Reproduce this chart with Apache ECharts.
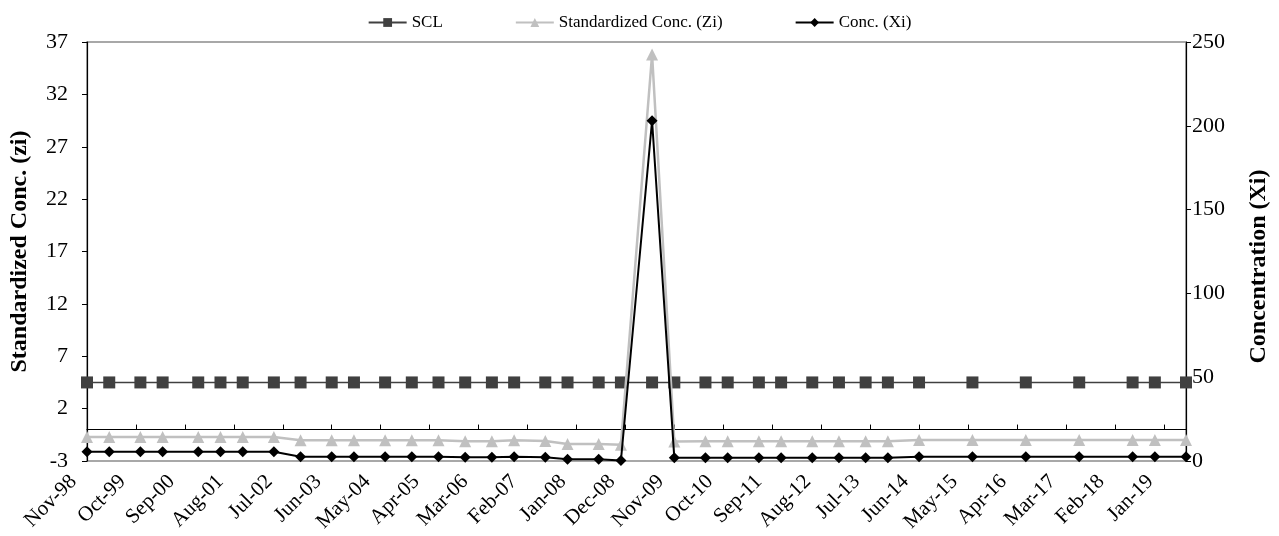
<!DOCTYPE html>
<html>
<head>
<meta charset="utf-8">
<script src="https://cdn.jsdelivr.net/npm/echarts@6/dist/echarts.min.js"></script>
<style>
html,body{margin:0;padding:0;background:#fff;}
#chart{width:1279px;height:536px;}
</style>
</head>
<body>
<div id="chart"></div>
<script>
// ---- data ----
const sampleDates = ['1998-11','1999-04','1999-11','2000-04','2000-12','2001-05','2001-10','2002-05','2002-11','2003-06',
  '2003-11','2004-06','2004-12','2005-06','2005-12','2006-06','2006-11','2007-06','2007-11','2008-06',
  '2008-11','2009-06','2009-11','2010-06','2010-11','2011-06','2011-11','2012-06','2012-12','2013-06',
  '2013-11','2014-06','2015-06','2016-06','2017-06','2018-06','2018-11','2019-06'];
const sclValues = [4.5,4.5,4.5,4.5,4.5,4.5,4.5,4.5,4.5,4.5,
  4.5,4.5,4.5,4.5,4.5,4.5,4.5,4.5,4.5,4.5,
  4.5,4.5,4.5,4.5,4.5,4.5,4.5,4.5,4.5,4.5,
  4.5,4.5,4.5,4.5,4.5,4.5,4.5,4.5];
const ziValues = [-0.70,-0.70,-0.70,-0.70,-0.70,-0.70,-0.70,-0.70,-1.03,-1.03,
  -1.03,-1.03,-1.03,-1.03,-1.12,-1.12,-1.03,-1.10,-1.37,-1.37,
  -1.45,35.8,-1.15,-1.12,-1.12,-1.12,-1.12,-1.12,-1.12,-1.12,
  -1.12,-1.0,-1.0,-1.0,-1.0,-1.0,-1.0,-1.0];
const xiValues = [5.5,5.5,5.5,5.5,5.5,5.5,5.5,5.5,2.5,2.5,
  2.5,2.5,2.5,2.5,2.2,2.2,2.5,2.2,1.0,1.0,
  0.3,203,1.9,1.9,1.9,1.9,1.9,1.9,1.9,1.9,
  1.9,2.5,2.5,2.5,2.5,2.5,2.5,2.5];
const xTickLabels = ['Nov-98','Oct-99','Sep-00','Aug-01','Jul-02','Jun-03','May-04','Apr-05','Mar-06','Feb-07','Jan-08','Dec-08',
  'Nov-09','Oct-10','Sep-11','Aug-12','Jul-13','Jun-14','May-15','Apr-16','Mar-17','Feb-18','Jan-19'];
const leftTicks = [-3,2,7,12,17,22,27,32,37];
const rightTicks = [0,50,100,150,200,250];
const seriesNames = ['SCL','Standardized Conc. (Zi)','Conc. (Xi)'];

// ---- helpers: month index from Nov-98 ----
const MON = ['Jan','Feb','Mar','Apr','May','Jun','Jul','Aug','Sep','Oct','Nov','Dec'];
const BASE = 1998*12 + 10;
function idxFromDate(s){ const p = s.split('-'); return (+p[0])*12 + (+p[1]-1) - BASE; }
function idxFromLabel(s){ const p = s.split('-'); return (2000 + (+p[1]) - (+p[1] > 50 ? 100 : 0))*12 + MON.indexOf(p[0]) - BASE; }
function labelFromIdx(m){ const t = BASE + m; const y = Math.floor(t/12); return MON[t%12] + '-' + String(y%100).padStart(2,'0'); }

const xIdx = sampleDates.map(idxFromDate);
const xMax = xIdx[xIdx.length-1];
const xTickIdx = xTickLabels.map(idxFromLabel);
const pair = (vals) => vals.map((v,i)=>[xIdx[i], v]);

const FONT = 'Liberation Serif';
const chart = echarts.init(document.getElementById('chart'));
chart.setOption({
  animation:false,
  backgroundColor:'#fff',
  textStyle:{fontFamily:FONT},
  legend:{
    top:9, left:'center', itemGap:72, itemWidth:38, itemHeight:11,
    textStyle:{fontFamily:FONT, fontSize:17, color:'#000'},
    data:seriesNames
  },
  grid:{left:86, right:91, top:42, bottom:75, show:true, borderColor:'#8c8c8c', borderWidth:1.5, containLabel:false},
  xAxis:[
    {type:'value', position:'bottom', min:0, max:xMax,
     axisLine:{show:false, onZero:false}, axisTick:{show:false}, splitLine:{show:false},
     axisLabel:{customValues:xTickIdx, rotate:45, margin:4, padding:[0,19,15,0], fontFamily:FONT, fontSize:21, color:'#000',
       formatter:(v)=>labelFromIdx(v)}},
    {type:'value', position:'top', min:0, max:xMax,
     axisLine:{show:true, onZero:true, onZeroAxisIndex:0, lineStyle:{color:'#000', width:1.2}},
     axisTick:{show:true, customValues:xTickIdx, length:5, lineStyle:{color:'#000'}},
     axisLabel:{show:false}, splitLine:{show:false}}
  ],
  yAxis:[
    {type:'value', position:'left', min:leftTicks[0], max:leftTicks[leftTicks.length-1],
     name:'Standardized Conc. (zi)', nameLocation:'middle', nameRotate:90, nameGap:55,
     nameTextStyle:{fontFamily:FONT, fontWeight:'bold', fontSize:24, color:'#000'},
     axisLine:{show:true, onZero:false, lineStyle:{color:'#000', width:1.2}},
     axisTick:{show:true, customValues:leftTicks, length:5, lineStyle:{color:'#000'}},
     axisLabel:{customValues:leftTicks, margin:19, fontFamily:FONT, fontSize:22, color:'#000'},
     splitLine:{show:false}},
    {type:'value', position:'right', min:rightTicks[0], max:rightTicks[rightTicks.length-1], interval:50,
     name:'Concentration (Xi)', nameLocation:'middle', nameRotate:90, nameGap:61,
     nameTextStyle:{fontFamily:FONT, fontWeight:'bold', fontSize:24, color:'#000', padding:[0,30,0,0]},
     axisLine:{show:true, onZero:false, lineStyle:{color:'#000', width:1.2}},
     axisTick:{show:true, length:5, lineStyle:{color:'#000'}},
     axisLabel:{margin:6, fontFamily:FONT, fontSize:22, color:'#000'},
     splitLine:{show:false}}
  ],
  series:[
    {name:seriesNames[0], type:'line', xAxisIndex:0, yAxisIndex:0, data:pair(sclValues),
     symbol:'rect', symbolSize:12, itemStyle:{color:'#404040'}, lineStyle:{color:'#404040', width:1.5}, z:2},
    {name:seriesNames[1], type:'line', xAxisIndex:0, yAxisIndex:0, data:pair(ziValues),
     symbol:'triangle', symbolSize:12, itemStyle:{color:'#c0c0c0'}, lineStyle:{color:'#c0c0c0', width:2.5}, z:3},
    {name:seriesNames[2], type:'line', xAxisIndex:0, yAxisIndex:1, data:pair(xiValues),
     symbol:'diamond', symbolSize:11, itemStyle:{color:'#000'}, lineStyle:{color:'#000', width:2}, z:4}
  ]
});
</script>
</body>
</html>
